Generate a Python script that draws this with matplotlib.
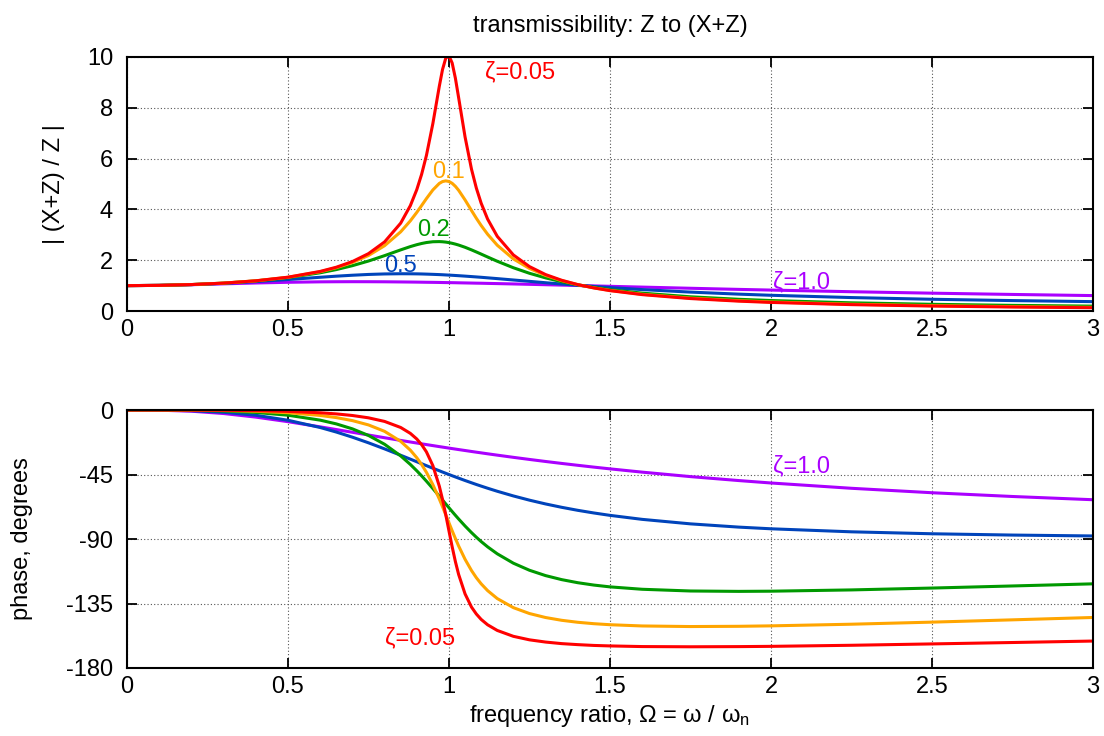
import matplotlib
matplotlib.use('Agg')
import matplotlib.pyplot as plt

plt.rcParams['font.family'] = ['Liberation Sans', 'DejaVu Sans']
plt.rcParams['mathtext.fontset'] = 'custom'
plt.rcParams['mathtext.rm'] = 'Liberation Sans'
plt.rcParams['mathtext.it'] = 'Liberation Sans:italic'
plt.rcParams['axes.unicode_minus'] = False

# frequency ratio samples
ratio = [0, 0.1, 0.2, 0.3, 0.4, 0.5, 0.6, 0.65, 0.7, 0.75, 0.8, 0.85, 0.88, 0.9, 0.915, 0.93,
         0.95, 0.97, 0.98, 0.99, 1.0, 1.01, 1.02, 1.03, 1.05, 1.07, 1.085, 1.1, 1.12, 1.15, 1.2,
         1.25, 1.3, 1.35, 1.4, 1.45, 1.5, 1.6, 1.75, 1.9, 2.0, 2.25, 2.5, 2.75, 3.0]

# | (X+Z) / Z |
mag_005 = [1.0, 1.010, 1.042, 1.099, 1.190, 1.332, 1.559, 1.724, 1.947, 2.259, 2.720, 3.458,
           4.146, 4.776, 5.378, 6.123, 7.379, 8.845, 9.506, 9.951, 10.05, 9.760, 9.162, 8.401,
           6.853, 5.583, 4.841, 4.244, 3.620, 2.940, 2.208, 1.749, 1.436, 1.211, 1.041, 0.909,
           0.803, 0.646, 0.491, 0.389, 0.339, 0.252, 0.196, 0.158, 0.130]
mag_01 = [1.0, 1.010, 1.042, 1.099, 1.189, 1.328, 1.547, 1.704, 1.909, 2.186, 2.571, 3.117,
          3.549, 3.882, 4.151, 4.425, 4.766, 5.023, 5.096, 5.123, 5.099, 5.026, 4.908, 4.753,
          4.373, 3.957, 3.652, 3.367, 3.023, 2.590, 2.052, 1.675, 1.401, 1.197, 1.038, 0.913,
          0.812, 0.659, 0.507, 0.406, 0.356, 0.268, 0.212, 0.173, 0.145]
mag_02 = [1.0, 1.010, 1.041, 1.097, 1.184, 1.314, 1.505, 1.631, 1.785, 1.968, 2.180, 2.407,
          2.536, 2.611, 2.658, 2.696, 2.727, 2.733, 2.726, 2.713, 2.693, 2.666, 2.634, 2.597,
          2.509, 2.407, 2.325, 2.241, 2.127, 1.959, 1.704, 1.486, 1.305, 1.155, 1.031, 0.928,
          0.841, 0.704, 0.560, 0.462, 0.413, 0.323, 0.265, 0.223, 0.193]
mag_05 = [1.0, 1.010, 1.040, 1.090, 1.158, 1.240, 1.329, 1.372, 1.409, 1.440, 1.460, 1.468,
          1.466, 1.463, 1.459, 1.453, 1.444, 1.434, 1.428, 1.421, 1.414, 1.407, 1.399, 1.391,
          1.374, 1.356, 1.342, 1.328, 1.307, 1.276, 1.222, 1.168, 1.114, 1.063, 1.014, 0.967,
          0.923, 0.844, 0.745, 0.665, 0.620, 0.530, 0.463, 0.411, 0.370]
mag_10 = [1.0, 1.010, 1.036, 1.070, 1.104, 1.131, 1.149, 1.153, 1.155, 1.154, 1.151, 1.145,
          1.141, 1.138, 1.135, 1.132, 1.129, 1.125, 1.122, 1.120, 1.118, 1.116, 1.114, 1.111,
          1.106, 1.101, 1.097, 1.094, 1.088, 1.080, 1.066, 1.051, 1.036, 1.020, 1.005, 0.989,
          0.973, 0.942, 0.896, 0.852, 0.825, 0.760, 0.703, 0.653, 0.608]

# phase, degrees
ph_005 = [0, -0.01, -0.05, -0.17, -0.44, -0.95, -1.92, -2.70, -3.81, -5.44, -7.95, -12.17,
          -16.28, -20.2, -24.11, -29.2, -38.8, -53.1, -62.4, -73.0, -84.3, -95.5, -105.8,
          -114.7, -128.3, -137.5, -142.33, -146.1, -149.85, -153.8, -157.9, -160.35, -161.9,
          -162.99, -163.7, -164.26, -164.6, -165.05, -165.2, -165.08, -164.9, -164.15, -163.2,
          -162.22, -161.2]
ph_01 = [0, -0.01, -0.10, -0.34, -0.87, -1.88, -3.78, -5.28, -7.38, -10.39, -14.87, -21.84,
         -27.98, -33.25, -37.98, -43.47, -52.07, -62.08, -67.49, -73.06, -78.69, -84.26, -89.67,
         -94.83, -104.16, -112.0, -117.0, -121.26, -126.0, -131.55, -137.89, -142.0, -144.78,
         -146.72, -148.10, -149.09, -149.8, -150.67, -151.08, -150.91, -150.6, -149.45, -148.0,
         -146.40, -144.75]
ph_02 = [0, -0.02, -0.19, -0.67, -1.69, -3.62, -7.06, -9.67, -13.13, -17.74, -23.89, -32.0,
         -37.95, -42.38, -45.92, -49.64, -54.8, -60.14, -62.82, -65.52, -68.20, -70.85, -73.46,
         -76.02, -80.93, -85.53, -88.75, -91.77, -95.46, -100.33, -106.87, -111.8, -115.53,
         -118.34, -120.49, -122.14, -123.40, -125.07, -126.27, -126.54, -126.41, -125.52,
         -124.22, -122.76, -121.28]
ph_05 = [0, -0.06, -0.46, -1.55, -3.66, -7.13, -12.19, -15.36, -18.94, -22.87, -27.11, -31.56,
         -34.27, -36.09, -37.45, -38.81, -40.61, -42.38, -43.27, -44.14, -45.0, -45.86, -46.70,
         -47.53, -49.18, -50.77, -51.95, -53.08, -54.56, -56.68, -59.95, -62.89, -65.53, -67.88,
         -69.98, -71.83, -73.50, -76.29, -79.43, -81.70, -82.87, -84.98, -86.34, -87.25, -87.87]
ph_10 = [0, -0.11, -0.82, -2.44, -4.94, -8.13, -11.74, -13.62, -15.53, -17.43, -19.33, -21.20,
         -22.30, -23.02, -23.57, -24.12, -24.82, -25.53, -25.87, -26.22, -26.57, -26.91, -27.25,
         -27.59, -28.25, -28.92, -29.41, -29.89, -30.54, -31.48, -33.01, -34.48, -35.90, -37.26,
         -38.57, -39.84, -41.05, -43.34, -46.46, -49.22, -50.91, -54.61, -57.71, -60.33, -62.59]

# drawn back to front
mags = [mag_10, mag_05, mag_02, mag_01, mag_005]
phases = [ph_10, ph_05, ph_02, ph_01, ph_005]
colors = ['#aa00ff', '#0044bb', '#009900', '#ffa500', '#ff0000']

fs = 17
fig = plt.figure(figsize=(11.04, 7.36), dpi=100)
ax1 = fig.add_axes([0.115, 0.5774, 0.875, 0.3452])
ax2 = fig.add_axes([0.115, 0.0924, 0.875, 0.3505])

for m, p, c in zip(mags, phases, colors):
    ax1.plot(ratio, m, color=c, lw=2.2)
    ax2.plot(ratio, p, color=c, lw=2.2)

for ax in (ax1, ax2):
    ax.set_xlim(0, 3)
    ax.set_xticks([0, 0.5, 1, 1.5, 2, 2.5, 3])
    ax.set_xticklabels(['0', '0.5', '1', '1.5', '2', '2.5', '3'])
    ax.grid(True, linestyle=(0, (1, 2)), color='#555555', lw=0.8)
    ax.tick_params(direction='in', length=7, width=1.3, top=True, right=True,
                   labelsize=fs, pad=6)
    ax.tick_params(axis='y', pad=10)
    for s in ax.spines.values():
        s.set_linewidth(1.5)

ax1.set_ylim(0, 10)
ax1.set_yticks([0, 2, 4, 6, 8, 10])
ax2.set_ylim(-180, 0)
ax2.set_yticks([0, -45, -90, -135, -180])

ax1.set_title('transmissibility: Z to (X+Z)', fontsize=fs, pad=18)
ax1.set_ylabel('| (X+Z) / Z |', fontsize=fs)
ax1.yaxis.set_label_coords(-0.064, 0.5)
ax2.set_ylabel('phase, degrees', fontsize=fs)
ax2.yaxis.set_label_coords(-0.097, 0.5)
ax2.set_xlabel(r'frequency ratio, Ω = ω / ω$_{\mathrm{n}}$', fontsize=fs)
ax2.xaxis.set_label_coords(0.5, -0.135)

ax1.text(1.112, 9.41, 'ζ=0.05', color='#ff0000', fontsize=fs, va='center')
ax1.text(0.947, 5.47, '0.1', color='#ffa500', fontsize=fs, va='center')
ax1.text(0.90, 3.19, '0.2', color='#009900', fontsize=fs, va='center')
ax1.text(0.80, 1.77, '0.5', color='#0044bb', fontsize=fs, va='center')
ax1.text(2.006, 1.14, 'ζ=1.0', color='#aa00ff', fontsize=fs, va='center')
ax2.text(2.006, -39.1, 'ζ=1.0', color='#aa00ff', fontsize=fs, va='center')
ax2.text(0.80, -159, 'ζ=0.05', color='#ff0000', fontsize=fs, va='center')

fig.savefig('out.png', dpi=100)
